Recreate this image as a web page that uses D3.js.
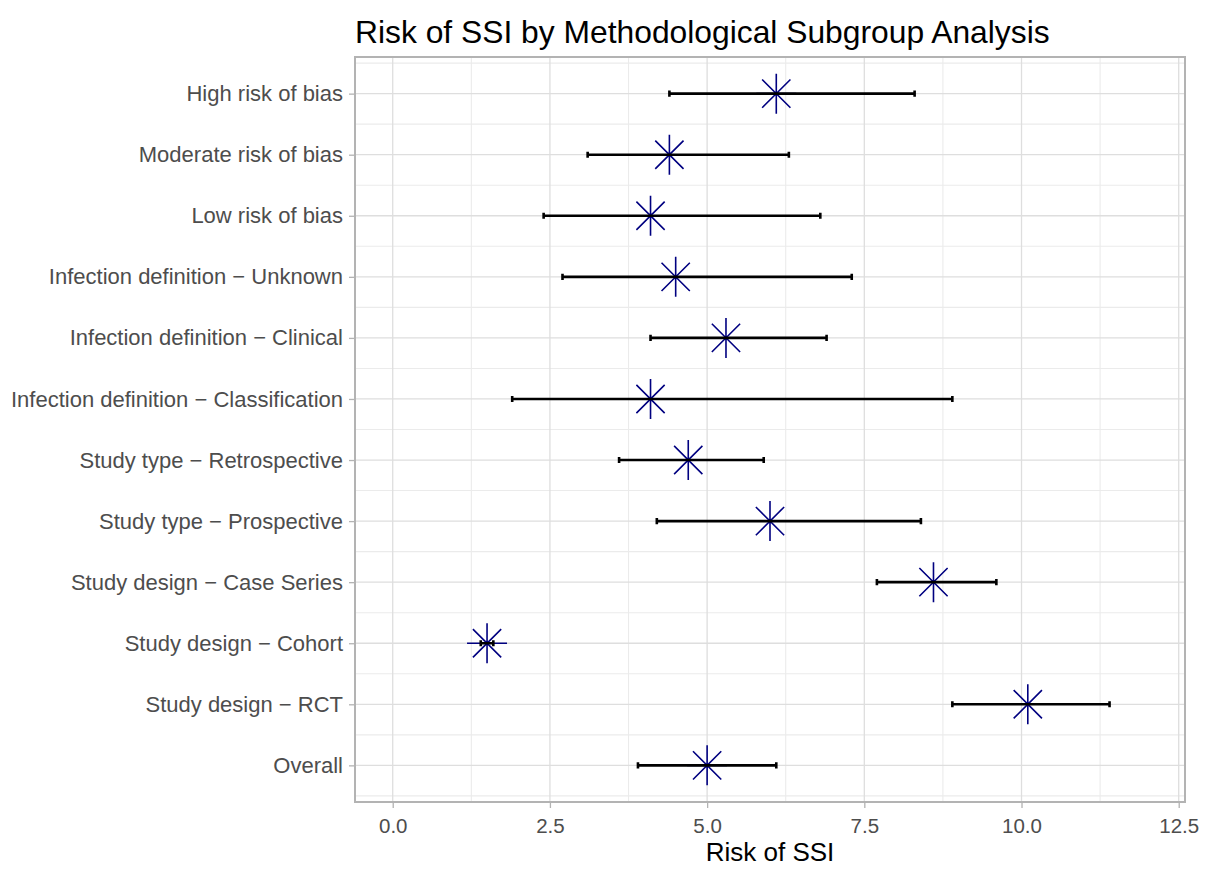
<!DOCTYPE html>
<html>
<head>
<meta charset="utf-8">
<script src="https://cdn.jsdelivr.net/npm/d3@7"></script>
<style>
  body { margin: 0; background: #fff; }
  text { font-family: "Liberation Sans", Arial, sans-serif; }
</style>
</head>
<body>
<div id="viz"></div>
<script>
// subgroups, top to bottom as shown
var groups = ["High risk of bias", "Moderate risk of bias", "Low risk of bias",
  "Infection definition \u2212 Unknown", "Infection definition \u2212 Clinical",
  "Infection definition \u2212 Classification", "Study type \u2212 Retrospective",
  "Study type \u2212 Prospective", "Study design \u2212 Case Series",
  "Study design \u2212 Cohort", "Study design \u2212 RCT", "Overall"];
var risk  = [6.1, 4.4, 4.1, 4.5, 5.3, 4.1, 4.7, 6.0, 8.6, 1.5, 10.1, 5.0];
var lower = [4.4, 3.1, 2.4, 2.7, 4.1, 1.9, 3.6, 4.2, 7.7, 1.4, 8.9, 3.9];
var upper = [8.3, 6.3, 6.8, 7.3, 6.9, 8.9, 5.9, 8.4, 9.6, 1.6, 11.4, 6.1];
var xTicks = [0, 2.5, 5, 7.5, 10, 12.5];
var xMinor = [1.25, 3.75, 6.25, 8.75, 11.25];

var W = 1213, H = 871;
var margin = {top: 57, right: 28, bottom: 69, left: 355};
var width = W - margin.left - margin.right,
    height = H - margin.top - margin.bottom;

var svg = d3.select("#viz").append("svg")
    .attr("width", W).attr("height", H);

var g = svg.append("g").attr("transform", "translate(" + margin.left + "," + margin.top + ")");

var x = d3.scaleLinear().domain([-0.6, 12.6]).range([0, width]);
var y = d3.scalePoint().domain(groups).range([0, height]).padding(0.6);
var step = y.step();

// grid
var minorY = groups.map(function(d) { return y(d) - step / 2; });
minorY.push(y(groups[groups.length - 1]) + step / 2);

g.selectAll(".minorY").data(minorY).enter().append("line")
    .attr("x1", 0).attr("x2", width)
    .attr("y1", function(d) { return d; }).attr("y2", function(d) { return d; })
    .attr("stroke", "#ebebeb").attr("stroke-width", 1.1);
g.selectAll(".minorX").data(xMinor).enter().append("line")
    .attr("x1", function(d) { return x(d); }).attr("x2", function(d) { return x(d); })
    .attr("y1", 0).attr("y2", height)
    .attr("stroke", "#ebebeb").attr("stroke-width", 1.1);
g.selectAll(".majorY").data(groups).enter().append("line")
    .attr("x1", 0).attr("x2", width)
    .attr("y1", function(d) { return y(d); }).attr("y2", function(d) { return y(d); })
    .attr("stroke", "#dedede").attr("stroke-width", 1.3);
g.selectAll(".majorX").data(xTicks).enter().append("line")
    .attr("x1", function(d) { return x(d); }).attr("x2", function(d) { return x(d); })
    .attr("y1", 0).attr("y2", height)
    .attr("stroke", "#dedede").attr("stroke-width", 1.3);

// points (asterisks)
var r = 20, d = r / Math.SQRT2;
var star = "M0," + (-r) + "V" + r + "M" + (-r) + ",0H" + r +
    "M" + (-d) + "," + (-d) + "L" + d + "," + d + "M" + (-d) + "," + d + "L" + d + "," + (-d);
g.selectAll(".pt").data(groups).enter().append("path")
    .attr("transform", function(s, i) { return "translate(" + x(risk[i]) + "," + y(s) + ")"; })
    .attr("d", star)
    .attr("fill", "none").attr("stroke", "#000080").attr("stroke-width", 1.6);

// error bars
var capH = step * 0.05;
var eb = g.selectAll(".eb").data(groups).enter().append("g")
    .attr("transform", function(s) { return "translate(0," + y(s) + ")"; });
eb.append("path")
    .attr("d", function(s, i) {
      var a = x(lower[i]), b = x(upper[i]);
      return "M" + a + ",0H" + b + "M" + a + "," + (-capH) + "V" + capH + "M" + b + "," + (-capH) + "V" + capH;
    })
    .attr("fill", "none").attr("stroke", "#000").attr("stroke-width", 2.6);

// panel border
g.append("rect").attr("x", 0).attr("y", 0).attr("width", width).attr("height", height)
    .attr("fill", "none").attr("stroke", "#b3b3b3").attr("stroke-width", 2);

// axes
var xAxis = g.append("g").attr("transform", "translate(0," + height + ")")
    .call(d3.axisBottom(x).tickValues(xTicks).tickFormat(d3.format(".1f")).tickSize(6).tickPadding(6));
var yAxis = g.append("g")
    .call(d3.axisLeft(y).tickSize(6).tickPadding(6));
[xAxis, yAxis].forEach(function(a) {
  a.select(".domain").remove();
  a.selectAll(".tick line").attr("stroke", "#b3b3b3").attr("stroke-width", 1.3);
  a.selectAll(".tick text").attr("fill", "#4d4d4d").style("font-size", "20.5px")
    .style("font-family", "'Liberation Sans', Arial, sans-serif");
});
yAxis.selectAll(".tick text").style("font-size", "22px");
xAxis.selectAll(".tick text").attr("dy", "0.95em");

svg.append("text")
    .attr("x", margin.left + width / 2).attr("y", 861)
    .attr("text-anchor", "middle").attr("fill", "#000")
    .style("font-size", "26px").text("Risk of SSI");

svg.append("text")
    .attr("x", margin.left).attr("y", 43)
    .attr("fill", "#000")
    .style("font-size", "31.8px").text("Risk of SSI by Methodological Subgroup Analysis");
</script>
</body>
</html>
